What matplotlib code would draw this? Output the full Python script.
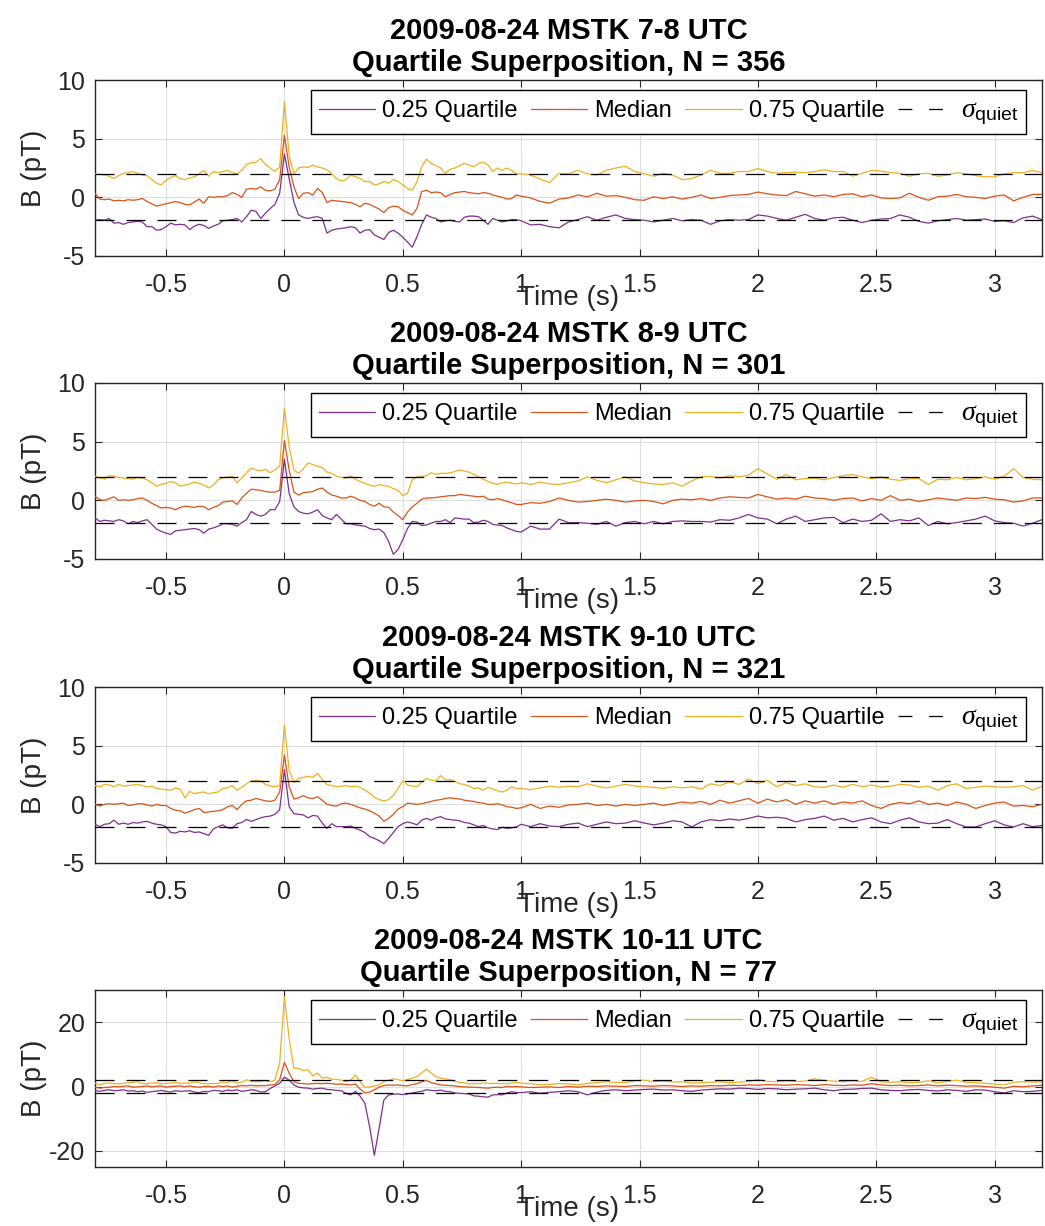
import numpy as np
import matplotlib
matplotlib.use("Agg")
import matplotlib.pyplot as plt
from matplotlib.lines import Line2D

# ---------------- data ----------------
t_fine = np.round(np.arange(-0.80, 0.99, 0.02), 2)     # -0.80 .. 0.98
t_coarse = np.round(np.arange(1.00, 3.201, 0.04), 2)   # 1.00 .. 3.20
time_s = np.concatenate([t_fine, t_coarse])

hours = ["7-8", "8-9", "9-10", "10-11"]
n_events = [356, 301, 321, 77]
sigma_upper = [1.99, 1.99, 1.99, 2.1]
sigma_lower = [-1.93, -1.93, -1.93, -1.9]
y_limits = [(-5, 10), (-5, 10), (-5, 10), (-25, 30)]
y_ticks = [[-5, 0, 5, 10], [-5, 0, 5, 10], [-5, 0, 5, 10], [-20, 0, 20]]
y_tick_labels = [["-5", "0", "5", "10"], ["-5", "0", "5", "10"],
                 ["-5", "0", "5", "10"], ["-20", "0", "20"]]
x_ticks = [-0.5, 0, 0.5, 1, 1.5, 2, 2.5, 3]
x_tick_labels = ["-0.5", "0", "0.5", "1", "1.5", "2", "2.5", "3"]
series_names = ["0.25 Quartile", "Median", "0.75 Quartile"]

# ---- panel 1 (7-8 UTC) ----
q25_p1 = [-1.95, -1.9, -1.95, -1.8, -2.2, -2.15, -2.3, -2.15, -2.1, -2.05,
          -2.1, -2.5, -2.5, -2.8, -2.75, -2.5, -2.2, -2.35, -2.3, -2.35,
          -2.75, -2.45, -2.3, -2.4, -2.65, -2.45, -2.3, -2.0, -1.95, -1.9,
          -1.8, -2.1, -1.65, -1.1, -1.2, -1.8, -1.35, -0.95, -0.6, 0.35,
          3.7, 1.6, -0.4, -1.5, -1.7, -1.8, -1.7, -1.65, -1.8, -3.05,
          -2.8, -2.7, -2.65, -2.6, -2.5, -2.6, -3.05, -2.8, -2.75, -3.2,
          -3.4, -3.6, -3.0, -2.8, -3.05, -3.4, -3.8, -4.25, -3.35, -2.3,
          -1.5, -1.7, -1.8, -2.1, -2.0, -1.95, -2.05, -2.1, -1.7, -1.6,
          -1.6, -1.65, -1.95, -2.3, -1.8, -1.95, -2.1, -2.0, -1.9, -1.9,
          -2.0, -2.35, -2.3, -2.5, -2.6, -2.1, -1.9, -1.65, -1.95, -1.7, -1.5, -1.8, -1.9, -1.95,
          -2.1, -1.95, -1.8, -2.0, -1.9, -1.95, -2.3, -2.0, -1.9, -1.95, -1.9, -1.5, -1.6, -1.8,
          -1.95, -1.7, -1.45, -1.8, -1.95, -1.75, -1.7, -1.95, -2.15, -1.95, -1.85, -1.8, -1.5, -1.7,
          -2.05, -2.2, -2.0, -1.9, -1.8, -1.95, -1.9, -1.85, -2.05, -2.0, -2.15, -1.75, -1.6, -1.9]
med_p1 = [0.35, -0.15, -0.2, -0.15, -0.3, -0.25, -0.3, -0.2, -0.25, -0.2,
          -0.1, -0.35, -0.55, -0.75, -0.65, -0.55, -0.45, -0.35, -0.45, -0.6,
          -0.65, -0.4, -0.15, -0.5, 0.05, 0.0, 0.05, 0.05, 0.15, 0.4,
          0.25, 0.0, 0.7, 0.75, 0.7, 0.9, 0.6, 0.55, 0.7, 1.5,
          5.3, 2.6, 0.9, -0.1, 0.35, 0.4, 0.2, 0.75, 0.4, -0.45,
          -0.25, -0.3, -0.35, -0.4, -0.45, -0.6, -0.8, -0.5, -0.6, -0.8,
          -1.0, -1.3, -0.9, -0.75, -0.8, -1.1, -1.3, -1.5, -0.95, 0.5,
          0.6, 0.4, 0.45, 0.4, 0.05, 0.25, 0.4, 0.45, 0.5, 0.4,
          0.35, 0.3, 0.4, 0.35, 0.2, 0.1, 0.0, -0.15, -0.1, 0.2,
          0.1, -0.05, -0.35, -0.5, -0.15, -0.05, 0.2, 0.05, 0.35, 0.1, 0.15, 0.0, -0.2, -0.25,
          0.05, -0.1, 0.05, -0.15, 0.0, 0.2, -0.1, 0.0, 0.15, 0.2, 0.25, 0.45, 0.3, 0.2,
          0.15, 0.5, 0.3, 0.1, 0.2, 0.05, 0.25, 0.3, 0.05, 0.2, -0.05, -0.1, -0.05, 0.35,
          0.0, -0.25, 0.05, 0.1, 0.25, 0.05, 0.0, -0.1, 0.1, 0.2, -0.3, 0.0, 0.25, 0.25]
q75_p1 = [2.0, 1.95, 1.9, 1.8, 1.6, 1.85, 2.05, 2.1, 2.2, 2.05,
          1.9, 1.85, 1.5, 1.2, 1.05, 1.45, 1.7, 1.85, 1.6, 1.5,
          1.65, 1.75, 2.0, 2.3, 1.8, 2.2, 2.1, 2.2, 2.3, 2.1,
          2.0, 2.3, 2.8, 2.95, 3.0, 3.3, 2.8, 2.5, 2.2, 2.6,
          8.15, 3.6, 2.0, 2.5, 2.6, 2.55, 2.75, 2.6, 2.5, 2.35,
          2.0, 1.6, 1.4, 1.5, 1.9, 1.75, 1.6, 1.35, 1.35, 1.05,
          1.15, 1.35, 1.2, 1.5, 1.35, 1.05, 0.75, 0.6, 1.35, 2.6,
          3.25, 2.9, 2.7, 2.5, 2.05, 2.4, 2.5, 2.7, 2.9, 2.75,
          2.6, 2.9, 3.0, 2.75, 2.2, 2.5, 2.3, 2.5, 2.3, 2.0,
          2.0, 1.9, 1.55, 1.25, 2.05, 2.0, 2.3, 2.0, 1.9, 2.3, 2.5, 2.65, 2.2, 2.0,
          1.8, 2.05, 1.9, 1.5, 1.6, 1.9, 2.3, 2.05, 2.05, 2.2, 2.2, 2.45, 2.2, 2.05,
          2.1, 2.15, 2.1, 2.2, 2.35, 2.2, 2.2, 1.8, 2.05, 2.3, 2.25, 2.1, 2.05, 1.8,
          2.0, 2.05, 1.8, 1.9, 2.1, 2.0, 1.85, 1.75, 1.75, 2.0, 2.1, 2.1, 2.3, 2.1]

# ---- panel 2 (8-9 UTC) ----
q25_p2 = [-1.5, -1.8, -1.7, -1.75, -1.8, -1.65, -1.75, -2.0, -1.8, -1.9,
          -1.75, -1.65, -2.05, -2.45, -2.65, -2.8, -2.9, -2.6, -2.55, -2.5,
          -2.45, -2.4, -2.5, -2.8, -2.45, -2.35, -2.2, -2.0, -2.0, -2.05,
          -2.2, -1.9, -1.65, -0.95, -1.2, -1.35, -1.2, -0.8, -0.8, -0.1,
          3.5, 0.6, -0.55, -0.95, -1.1, -1.15, -1.0, -0.8, -1.3, -1.5,
          -1.65, -1.2, -1.6, -2.0, -2.0, -2.1, -2.15, -2.2, -2.4, -2.5,
          -2.45, -2.75, -3.5, -4.6, -4.2, -3.35, -2.4, -1.8, -1.85, -2.15,
          -2.1, -1.95, -1.8, -1.8, -1.65, -1.9, -1.5, -1.55, -1.6, -1.6,
          -1.9, -1.85, -1.7, -1.8, -2.05, -2.1, -2.15, -2.35, -2.5, -2.65,
          -2.7, -2.2, -2.45, -2.45, -1.6, -1.9, -1.9, -1.95, -2.05, -1.8, -2.2, -1.9, -1.8, -2.0,
          -1.8, -2.0, -1.8, -1.75, -1.8, -1.8, -1.85, -1.65, -1.7, -1.5, -1.2, -1.5, -1.6, -2.0,
          -1.6, -1.35, -1.8, -1.65, -1.5, -1.45, -1.9, -1.6, -1.8, -1.7, -1.15, -1.8, -1.65, -1.75,
          -1.5, -2.15, -1.8, -2.0, -1.9, -1.75, -1.6, -1.35, -1.75, -1.9, -1.95, -2.2, -1.95, -1.65]
med_p2 = [0.35, 0.05, 0.0, 0.15, 0.3, 0.0, 0.05, 0.0, 0.05, 0.15,
          0.2, 0.0, -0.25, -0.45, -0.65, -0.6, -0.65, -0.8, -0.6, -0.5,
          -0.55, -0.6, -0.5, -0.55, -0.8, -0.6, -0.45, -0.15, -0.1, -0.05,
          -0.35, 0.2, 0.6, 0.95, 0.9, 0.85, 0.75, 0.7, 0.7, 0.85,
          5.1, 2.6, 0.7, 0.45, 0.65, 0.7, 0.75, 0.95, 1.05, 0.7,
          0.45, 0.35, 0.2, 0.2, 0.35, 0.2, 0.0, -0.1, -0.35, -0.5,
          -0.25, -0.55, -0.6, -1.0, -1.3, -1.65, -1.0, -0.55, -0.25, 0.1,
          0.2, 0.2, 0.25, 0.3, 0.35, 0.4, 0.4, 0.5, 0.45, 0.4,
          0.35, 0.3, 0.35, 0.1, 0.05, 0.15, 0.05, -0.1, -0.2, -0.35,
          -0.35, -0.2, -0.25, -0.1, 0.2, 0.0, -0.15, -0.1, 0.0, 0.1, 0.0, -0.15, -0.05, 0.0,
          -0.1, -0.3, 0.0, 0.1, 0.05, 0.15, 0.0, 0.2, 0.3, 0.25, 0.2, 0.5, 0.3, 0.1,
          0.2, 0.1, 0.35, 0.2, 0.15, 0.0, 0.15, 0.2, -0.05, 0.15, 0.0, 0.4, 0.0, 0.1,
          -0.1, 0.05, 0.2, 0.1, 0.0, 0.2, 0.15, 0.25, 0.1, 0.05, -0.15, -0.05, 0.2, 0.2]
q75_p2 = [2.05, 1.9, 1.8, 2.1, 2.05, 1.95, 1.9, 1.85, 1.8, 1.95,
          1.9, 1.75, 1.5, 1.2, 1.35, 1.45, 1.6, 1.5, 1.2, 1.3,
          1.4, 1.55, 1.45, 1.3, 1.05, 1.3, 1.75, 1.9, 2.0, 2.05,
          1.5, 1.9, 2.35, 2.75, 2.6, 2.5, 2.65, 2.35, 2.6, 2.9,
          7.85, 4.6, 2.6, 2.3, 2.7, 3.2, 3.05, 2.9, 2.8, 2.4,
          2.3, 2.05, 1.95, 1.9, 2.1, 1.8, 1.6, 1.45, 1.3, 1.2,
          1.35, 1.25, 1.2, 1.0, 0.85, 0.4, 0.6, 1.75, 2.0, 2.05,
          2.1, 2.35, 2.2, 2.3, 2.3, 2.35, 2.45, 2.6, 2.5, 2.4,
          2.2, 2.0, 1.8, 1.6, 1.45, 1.35, 1.5, 1.55, 1.45, 1.4,
          1.5, 1.35, 1.55, 1.4, 1.35, 1.5, 1.65, 2.0, 1.7, 1.5, 1.75, 2.0, 1.65, 1.5,
          1.4, 1.35, 1.5, 1.2, 1.65, 2.0, 2.05, 1.9, 2.1, 2.0, 2.15, 2.7, 2.25, 1.8,
          2.2, 1.75, 1.85, 1.9, 1.75, 1.95, 2.1, 2.2, 2.0, 1.85, 2.0, 1.8, 1.7, 1.85,
          1.85, 1.35, 1.8, 1.75, 1.95, 1.75, 1.85, 2.0, 1.8, 2.05, 2.7, 1.95, 1.8, 1.75]

# ---- panel 3 (9-10 UTC) ----
q25_p3 = [-1.7, -1.9, -1.7, -1.65, -1.35, -1.7, -1.6, -1.7, -1.55, -1.6,
          -1.5, -1.45, -1.6, -1.7, -1.75, -1.9, -2.4, -2.45, -2.3, -2.35,
          -2.25, -2.4, -2.35, -2.5, -2.65, -2.1, -1.9, -1.75, -2.0, -2.05,
          -1.65, -1.55, -1.3, -1.45, -1.3, -1.15, -1.05, -1.0, -0.85, -0.45,
          2.95, -0.2, -0.8, -0.85, -0.9, -1.15, -0.95, -1.0, -1.6, -2.05,
          -1.65, -1.9, -1.9, -1.9, -1.85, -2.05, -2.2, -2.4, -2.75, -2.9,
          -3.1, -3.35, -2.9, -2.4, -1.9, -1.65, -1.5, -1.6, -1.75, -1.35,
          -1.2, -1.35, -1.15, -1.05, -1.25, -1.3, -1.35, -1.4, -1.55, -1.6,
          -1.75, -1.9, -1.8, -2.0, -2.1, -2.15, -1.95, -2.05, -2.0, -1.93,
          -1.7, -1.9, -1.65, -1.85, -1.9, -1.7, -1.6, -1.9, -1.7, -1.5, -1.65, -1.6, -1.4, -1.6,
          -1.75, -1.6, -1.4, -1.5, -1.93, -1.5, -1.3, -1.4, -1.25, -1.35, -1.2, -1.0, -1.15, -1.1,
          -1.2, -1.5, -1.3, -1.2, -1.0, -1.35, -1.2, -1.5, -1.3, -1.15, -1.5, -1.65, -1.35, -1.15,
          -1.5, -1.65, -1.6, -1.3, -1.65, -1.93, -1.93, -1.65, -1.4, -1.75, -1.93, -1.65, -1.9, -1.8]
med_p3 = [0.0, -0.15, 0.0, 0.05, 0.0, 0.05, 0.1, -0.1, -0.05, 0.05,
          0.05, -0.05, -0.15, 0.0, -0.1, -0.1, -0.35, -0.5, -0.55, -0.75,
          -0.6, -0.45, -0.35, -0.7, -0.65, -0.6, -0.55, -0.45, -0.2, -0.1,
          -0.45, 0.0, 0.3, 0.35, 0.5, 0.4, 0.3, 0.25, 0.35, 1.05,
          4.2, 1.5, 0.45, 0.55, 0.75, 0.55, 0.5, 0.65, 0.35, 0.0,
          -0.1, -0.15, 0.05, 0.1, 0.0, -0.15, -0.3, -0.4, -0.55, -0.75,
          -1.0, -1.45, -1.2, -0.85, -0.4, -0.2, 0.1, 0.05, 0.0, 0.05,
          0.15, 0.25, 0.35, 0.4, 0.5, 0.55, 0.5, 0.45, 0.35, 0.3,
          0.25, 0.15, 0.1, 0.0, 0.0, 0.05, -0.05, -0.2, -0.25, -0.35,
          -0.3, 0.0, -0.35, -0.15, -0.25, -0.05, 0.0, 0.1, -0.1, 0.0, -0.15, 0.0, -0.1, 0.0,
          0.1, -0.1, 0.05, 0.2, 0.1, 0.25, 0.0, 0.35, 0.1, 0.3, 0.5, 0.1, 0.45, 0.2,
          0.4, 0.0, 0.3, 0.1, 0.3, 0.0, 0.2, 0.1, 0.3, -0.1, -0.35, 0.0, 0.15, 0.05,
          0.3, 0.0, 0.1, -0.1, 0.2, 0.0, -0.35, -0.1, 0.1, 0.2, -0.15, -0.1, -0.2, 0.0]
q75_p3 = [1.6, 1.5, 1.7, 1.65, 1.5, 1.7, 1.55, 1.6, 1.65, 1.7,
          1.6, 1.5, 1.55, 1.35, 1.3, 1.25, 1.2, 1.4, 1.3, 0.55,
          1.1, 0.9, 1.0, 1.05, 0.9, 1.0, 1.05, 1.35, 1.4, 1.6,
          1.2, 1.45, 1.75, 2.0, 2.05, 2.0, 1.7, 1.55, 1.5, 1.6,
          6.75, 2.9, 1.85, 2.2, 2.3, 2.4, 2.3, 2.65, 2.1, 1.7,
          1.6, 1.5, 1.55, 1.6, 1.5, 1.55, 1.45, 1.2, 0.95, 0.6,
          0.4, 0.3, 0.4, 0.75, 1.35, 2.0, 1.65, 1.55, 1.5, 1.9,
          2.2, 2.05, 2.0, 2.45, 2.1, 2.1, 1.95, 1.75, 1.7, 1.55,
          1.35, 1.4, 1.2, 1.45, 1.3, 1.15, 1.05, 1.2, 1.5, 1.35,
          1.35, 1.25, 1.4, 1.55, 1.45, 1.55, 1.5, 1.75, 1.55, 1.4, 1.55, 1.7, 1.55, 1.5,
          1.45, 1.35, 1.5, 1.4, 1.5, 1.3, 1.75, 1.6, 1.9, 1.7, 2.15, 1.75, 2.05, 1.5,
          1.85, 1.6, 1.75, 1.5, 1.45, 1.65, 1.45, 1.7, 1.5, 1.65, 1.45, 1.55, 1.7, 1.65,
          1.45, 1.55, 1.2, 1.6, 1.75, 1.35, 1.45, 1.55, 1.5, 1.45, 1.5, 1.6, 1.2, 1.55]

# ---- panel 4 (10-11 UTC) ----
q25_p4 = [-1.25, -1.5, -1.2, -1.0, -1.3, -1.2, -1.0, -1.4, -1.3, -1.6,
          -1.4, -1.8, -1.6, -1.4, -1.2, -1.5, -1.7, -1.3, -1.5, -1.4,
          -1.3, -1.7, -1.9, -1.5, -1.6, -1.2, -1.3, -1.5, -1.1, -1.3,
          -1.0, -1.5, -1.3, -1.0, -1.2, -1.7, -1.6, -0.6, 0.2, 1.0,
          2.9, 2.0, 0.5, -0.2, -0.4, -0.5, -0.8, -0.6, -0.5, -0.9,
          -1.0, -1.2, -1.3, -2.1, -2.6, -1.5, -3.0, -5.2, -12.5, -21.4,
          -13.0, -4.2, -2.6, -2.4, -2.3, -2.5, -2.3, -2.0, -1.7, -1.5,
          -1.0, -1.2, -1.3, -1.1, -1.5, -1.6, -2.0, -2.1, -2.2, -2.3,
          -2.9, -3.0, -3.2, -3.3, -2.6, -2.5, -2.6, -2.0, -1.6, -1.9,
          -1.9, -1.6, -2.1, -1.8, -1.6, -1.3, -1.6, -2.6, -1.7, -1.2, -1.0, -1.3, -1.1, -0.9,
          -0.8, -1.1, -1.0, -1.3, -1.5, -1.1, -0.9, -0.7, -0.8, -0.5, -0.6, -0.9, -0.6, -0.7,
          -1.0, -0.8, -0.7, -0.5, -1.0, -1.3, -0.9, -0.8, -0.6, -0.5, -1.0, -1.2, -1.3, -1.0,
          -0.9, -1.2, -1.4, -1.0, -1.2, -1.5, -1.0, -1.1, -1.6, -2.0, -1.3, -1.6, -1.5, -1.2]
med_p4 = [-0.2, -0.5, -0.3, -0.2, 0.0, -0.1, 0.1, 0.2, -0.2, -0.1,
          0.0, 0.2, -0.1, 0.1, 0.2, -0.2, 0.0, 0.1, 0.2, -0.1,
          0.2, -0.1, -0.2, 0.0, 0.1, -0.2, 0.2, 0.0, 0.2, -0.2,
          0.1, 0.3, 0.2, 0.4, 0.2, 0.3, 0.3, 0.5, 0.6, 2.1,
          7.5, 4.2, 1.5, 1.0, 0.9, 0.8, 0.9, 1.0, 0.9, 1.0,
          0.9, 0.7, 0.8, 0.6, 0.5, 0.8, -0.8, -2.0, -1.7, -1.0,
          -0.2, 0.3, 0.5, 0.4, 0.5, 0.3, 0.2, 0.6, 0.9, 1.5,
          1.9, 1.2, 0.9, 0.5, 0.4, 0.3, 0.2, 0.0, -0.1, -0.2,
          -0.2, -0.3, -0.4, -0.5, -0.3, -0.2, -0.3, 0.0, -0.1, 0.0,
          -0.1, -0.3, -0.2, -0.1, -0.3, 0.0, -0.2, 0.1, 0.0, 0.2, 0.1, 0.0, 0.3, 0.2,
          0.1, 0.3, 0.2, 0.0, 0.2, 0.1, 0.3, 0.2, 0.4, 0.3, 0.5, 0.4, 0.6, 0.5,
          0.4, 0.6, 0.5, 0.3, 0.6, 0.4, 0.3, 0.5, 0.4, 0.9, 0.5, 0.3, 0.4, 0.2,
          0.3, 0.5, 0.2, 0.4, 0.3, 0.1, 0.2, 0.0, -0.2, -0.5, 0.1, -0.1, 0.2, 0.4]
q75_p4 = [1.05, 0.5, 1.0, 1.1, 0.9, 0.85, 1.0, 1.2, 1.3, 1.55,
          0.9, 0.85, 1.1, 1.2, 0.9, 0.95, 1.1, 1.25, 1.0, 1.05,
          1.1, 1.5, 1.2, 0.85, 0.9, 0.9, 1.0, 1.3, 1.2, 1.8,
          1.0, 1.35, 2.1, 1.6, 1.5, 1.6, 1.8, 1.5, 2.0, 7.3,
          27.9, 15.0, 5.7, 5.6, 5.0, 5.2, 3.3, 4.2, 2.6, 2.9,
          2.3, 2.2, 2.0, 1.5, 2.0, 3.6, 1.5, -0.2, -0.1, 0.2,
          0.5, 1.55, 2.0, 2.4, 2.1, 1.8, 2.2, 2.6, 3.1, 4.2,
          5.4, 4.2, 3.1, 2.6, 2.4, 2.1, 1.7, 1.3, 1.2, 0.85,
          0.9, 0.95, 1.1, 0.95, 1.0, 1.0, 0.85, 0.9, 1.1, 1.25,
          1.05, 0.9, 0.6, 0.7, 0.9, 0.85, 0.5, 1.0, 1.2, 1.5, 1.3, 1.2, 1.8, 2.0,
          1.5, 1.7, 1.4, 1.5, 1.1, 1.2, 1.3, 1.5, 1.2, 1.4, 1.55, 2.2, 1.6, 1.5,
          1.8, 1.55, 1.7, 2.4, 1.9, 1.7, 1.5, 1.8, 1.6, 2.9, 1.5, 1.3, 1.5, 1.2,
          1.3, 1.8, 1.1, 1.6, 2.0, 1.3, 1.2, 1.0, 0.8, 0.5, 1.3, 1.5, 1.4, 1.4]

panels = [(q25_p1, med_p1, q75_p1), (q25_p2, med_p2, q75_p2),
          (q25_p3, med_p3, q75_p3), (q25_p4, med_p4, q75_p4)]

# ---------------- style ----------------
plt.rcParams["font.family"] = ["Liberation Sans", "DejaVu Sans"]
plt.rcParams["axes.unicode_minus"] = False
plt.rcParams["mathtext.fontset"] = "custom"
plt.rcParams["mathtext.rm"] = "Liberation Sans"
plt.rcParams["mathtext.it"] = "Liberation Serif:italic"
plt.rcParams["mathtext.bf"] = "Liberation Sans:bold"
plt.rcParams["lines.scale_dashes"] = False

colors = ["#7E2F8E", "#D95319", "#EDB120"]
axis_gray = "#262626"

fig = plt.figure(figsize=(10.45, 12.26), dpi=100)
W, H = 1045.0, 1226.0
ax_left, ax_right = 95, 1042
tops = [80, 383, 687, 990]
bottoms = [256, 559, 863, 1167]

for k in range(4):
    ax = fig.add_axes([ax_left / W, 1 - bottoms[k] / H,
                       (ax_right - ax_left) / W, (bottoms[k] - tops[k]) / H])
    q25, med, q75 = panels[k]
    assert len(q25) == len(time_s) and len(med) == len(time_s) and len(q75) == len(time_s)
    handles = []
    for vals, c, name in zip((q25, med, q75), colors, series_names):
        ln, = ax.plot(time_s, vals, color=c, lw=0.9, label=name, zorder=3)
        handles.append(ln)
    for lvl in (sigma_upper[k], sigma_lower[k]):
        ax.axhline(lvl, color="black", lw=0.9, dashes=(13.7, 8.6), zorder=4)
    sig_handle = Line2D([], [], color="black", lw=0.9, dashes=(10, 12))
    handles.append(sig_handle)

    ax.set_xlim(-0.8, 3.2)
    ax.set_ylim(*y_limits[k])
    ax.set_xticks(x_ticks)
    ax.set_xticklabels(x_tick_labels)
    ax.set_yticks(y_ticks[k])
    ax.set_yticklabels(y_tick_labels[k])
    ax.grid(True, color="#dedede", lw=0.8)
    ax.set_axisbelow(True)
    ax.tick_params(axis="both", direction="in", top=True, right=True,
                   length=5, width=0.8, colors=axis_gray, labelsize=18)
    ax.tick_params(axis="x", pad=12)
    ax.tick_params(axis="y", pad=7)
    for sp in ax.spines.values():
        sp.set_color(axis_gray)
        sp.set_linewidth(1.0)

    ax.set_title(f"2009-08-24 MSTK {hours[k]} UTC\nQuartile Superposition, N = {n_events[k]}",
                 fontsize=21, fontweight="bold", pad=6.5, linespacing=1.2)
    ax.set_xlabel("Time (s)", fontsize=20, color=axis_gray)
    ax.xaxis.set_label_coords(0.5, -0.165)
    ax.set_ylabel("B (pT)", fontsize=20, color=axis_gray)
    ax.yaxis.set_label_coords(-0.0507, 0.5)

    leg = ax.legend(handles=handles,
                    labels=series_names + [r"$\sigma_{\mathrm{quiet}}$"],
                    ncol=4, loc="upper right",
                    bbox_to_anchor=(1 - 16 / 947, 1 - 10 / 176),
                    borderaxespad=0, fontsize=17, frameon=True, fancybox=False,
                    framealpha=1, edgecolor="black", handlelength=2.4,
                    handletextpad=0.3, columnspacing=0.55, borderpad=0.3)
    leg.get_texts()[3].set_fontsize(20)
    leg.get_frame().set_linewidth(1.0)
    leg.set_zorder(10)

fig.savefig("out.png", dpi=100)
